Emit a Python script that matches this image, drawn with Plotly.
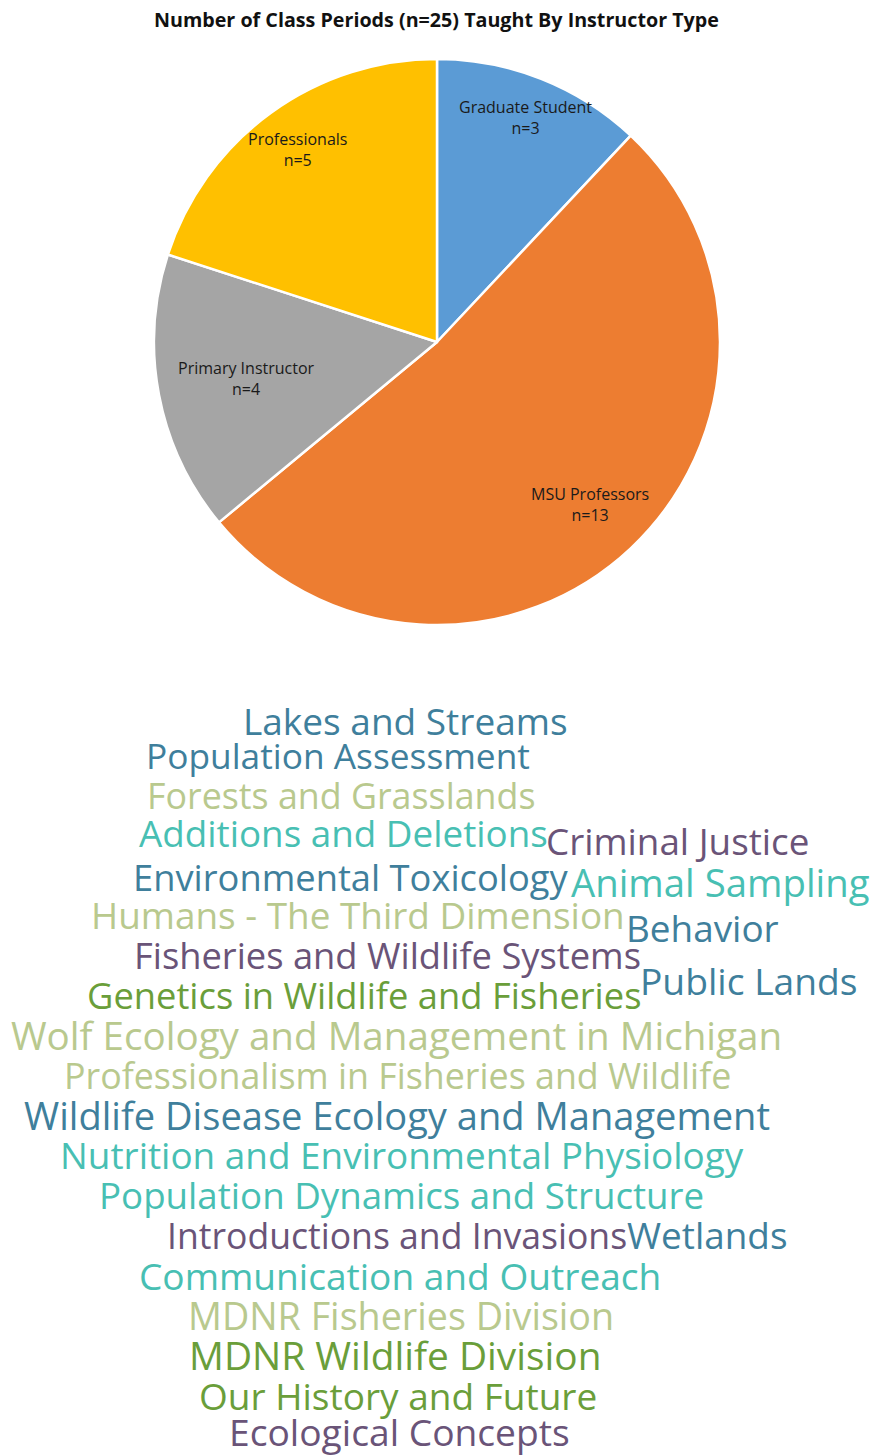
import math
import plotly.graph_objects as go

# ---------------- data ----------------
instructor_types = ["Graduate Student", "MSU Professors", "Primary Instructor", "Professionals"]
class_periods = [3, 13, 4, 5]
slice_colors = ["#5B9BD5", "#ED7D31", "#A5A5A5", "#FFC000"]

topics = [
    "Lakes and Streams", "Population Assessment", "Forests and Grasslands",
    "Additions and Deletions", "Criminal Justice", "Environmental Toxicology",
    "Animal Sampling", "Humans - The Third Dimension", "Behavior",
    "Fisheries and Wildlife Systems", "Public Lands", "Genetics in Wildlife and Fisheries",
    "Wolf Ecology and Management in Michigan", "Professionalism in Fisheries and Wildlife",
    "Wildlife Disease Ecology and Management", "Nutrition and Environmental Physiology",
    "Population Dynamics and Structure", "Introductions and Invasions", "Wetlands",
    "Communication and Outreach", "MDNR Fisheries Division", "MDNR Wildlife Division",
    "Our History and Future", "Ecological Concepts",
]

# ---------------- layout / style ----------------
W, H = 875, 1456
BLUE, TEAL, OLIVE, PURPLE, GREEN = "#3f7f9c", "#48bfb3", "#b9c98e", "#6a5478", "#6a9e3a"
topic_colors = [BLUE, BLUE, OLIVE, TEAL, PURPLE, BLUE, TEAL, OLIVE, BLUE, PURPLE, BLUE, GREEN,
                OLIVE, OLIVE, BLUE, TEAL, TEAL, PURPLE, BLUE, TEAL, OLIVE, GREEN, GREEN, PURPLE]
# word centre positions in pixels (x, y)
topic_pos = [(405, 720), (338, 755), (341, 795), (343, 833), (677, 841), (351, 877),
             (720, 882), (358, 915), (702, 928), (387, 955), (749, 980), (364, 995),
             (396, 1035), (397, 1075), (397, 1115), (402, 1155), (401, 1195), (397, 1235),
             (707, 1235), (400, 1275), (401, 1315), (395, 1355), (398, 1395), (399, 1431)]
topic_size = [37, 35.3, 35.8, 36.8, 36.8, 36.3, 38.3, 36.9, 36.9, 36.3, 37.2, 36.3,
              38.6, 35.8, 38.1, 36.9, 36.7, 35.6, 36.9, 37.1, 37.7, 38.8, 37.0, 37.2]

cx, cy, R = 437, 342, 283
label_r = [0.854, 0.79, 0.685, 0.84]

fig = go.Figure()
fig.add_trace(go.Pie(
    labels=instructor_types, values=class_periods, sort=False, direction="clockwise",
    rotation=0, marker=dict(colors=slice_colors, line=dict(color="white", width=2.5)),
    textinfo="none", hoverinfo="label+value", showlegend=False,
    domain=dict(x=[(cx - R) / W, (cx + R) / W], y=[1 - (cy + R) / H, 1 - (cy - R) / H]),
))

annotations = []
total = sum(class_periods)
cum = 0
for lab, v, rf in zip(instructor_types, class_periods, label_r):
    mid = (cum + v / 2) / total * 2 * math.pi
    cum += v
    px = cx + rf * R * math.sin(mid)
    py = cy - rf * R * math.cos(mid)
    annotations.append(dict(
        x=px / W, y=1 - py / H, xref="paper", yref="paper", showarrow=False,
        xanchor="center", yanchor="middle",
        text=f"{lab}<br>n={v}", align="center",
        font=dict(family="Open Sans", size=16, color="#1a1a1a"),
    ))

annotations.append(dict(
    x=436 / W, y=1 - 20 / H, xref="paper", yref="paper", showarrow=False,
    xanchor="center", yanchor="middle",
    text="<b>Number of Class Periods (n=25) Taught By Instructor Type</b>",
    font=dict(family="Open Sans", size=19.7, color="#111111"),
))

for t, c, (px, py), s in zip(topics, topic_colors, topic_pos, topic_size):
    annotations.append(dict(
        x=px / W, y=1 - py / H, xref="paper", yref="paper", showarrow=False,
        xanchor="center", yanchor="middle", text=t,
        font=dict(family="Open Sans", size=s, color=c),
    ))

fig.update_layout(
    width=W, height=H, margin=dict(l=0, r=0, t=0, b=0),
    paper_bgcolor="white", plot_bgcolor="white",
    annotations=annotations,
)
fig.write_html("out.html")
